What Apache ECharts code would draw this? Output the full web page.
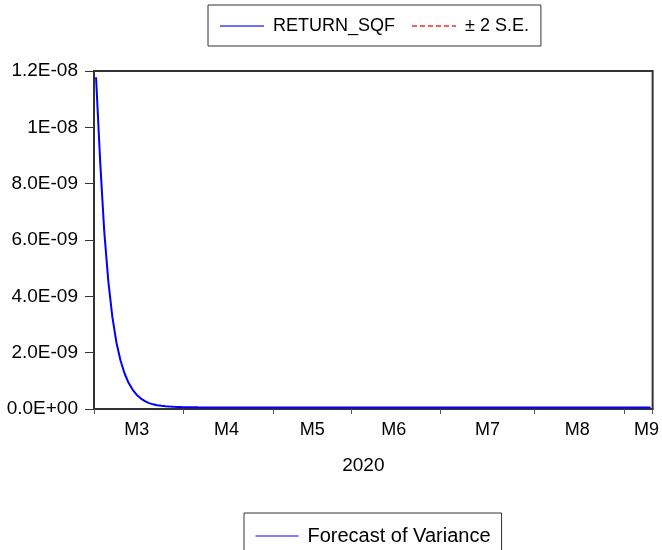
<!DOCTYPE html>
<html><head><meta charset="utf-8">
<script src="https://cdn.jsdelivr.net/npm/echarts@6/dist/echarts.min.js"></script>
<style>html,body{margin:0;padding:0;background:#fff}#chart{width:662px;height:550px}</style>
</head><body><div id="chart"></div>
<script>
// ---- data ----
const monthLabels = ['M3', 'M4', 'M5', 'M6', 'M7', 'M8', 'M9'];
const monthDayCounts = [22, 22, 19, 22, 23, 22, 7];   // trading days shown per month
const yTickLabels = ['0.0E+00', '2.0E-09', '4.0E-09', '6.0E-09', '8.0E-09', '1E-08', '1.2E-08'];
const xAxisTitle = '2020';
const topLegendNames = ['RETURN_SQF', '± 2 S.E.'];
const bottomLegendName = 'Forecast of Variance';
// forecast of variance, in units of 1E-09
const forecastVarianceE9 = [
  11.78, 8.82, 6.33, 4.55, 3.27, 2.36, 1.72, 1.26, 0.92, 0.68,
  0.50, 0.37, 0.28, 0.21, 0.165, 0.135, 0.112, 0.096, 0.085, 0.077,
  0.072, 0.068, 0.065, 0.062, 0.060, 0.058, 0.057, 0.056,
  0.055, 0.055, 0.055, 0.055, 0.055, 0.055, 0.055, 0.055, 0.055, 0.055,
  0.055, 0.055, 0.055, 0.055, 0.055, 0.055, 0.055, 0.055, 0.055, 0.055,
  0.055, 0.055, 0.055, 0.055, 0.055, 0.055, 0.055, 0.055, 0.055, 0.055,
  0.055, 0.055, 0.055, 0.055, 0.055, 0.055, 0.055, 0.055, 0.055, 0.055,
  0.055, 0.055, 0.055, 0.055, 0.055, 0.055, 0.055, 0.055, 0.055, 0.055,
  0.055, 0.055, 0.055, 0.055, 0.055, 0.055, 0.055, 0.055, 0.055, 0.055,
  0.055, 0.055, 0.055, 0.055, 0.055, 0.055, 0.055, 0.055, 0.055, 0.055,
  0.055, 0.055, 0.055, 0.055, 0.055, 0.055, 0.055, 0.055, 0.055, 0.055,
  0.055, 0.055, 0.055, 0.055, 0.055, 0.055, 0.055, 0.055, 0.055, 0.055,
  0.055, 0.055, 0.055, 0.055, 0.055, 0.055, 0.055, 0.055, 0.055, 0.055,
  0.055, 0.055, 0.055, 0.055, 0.055, 0.055, 0.055, 0.055, 0.055
];

// ---- build categories / tick positions ----
const categories = [];
const monthStarts = [];
const labelIndices = [];
let idx = 0;
monthDayCounts.forEach((cnt, m) => {
  monthStarts.push(idx);
  const last = m === monthDayCounts.length - 1;
  labelIndices.push(idx + (last ? cnt - 2 : Math.floor((cnt - 1) / 2)));
  for (let d = 0; d < cnt; d++) categories.push(monthLabels[m] + '-' + (d + 1));
  idx += cnt;
});

const FONT = '"Liberation Sans", Arial, sans-serif';
const chart = echarts.init(document.getElementById('chart'), null, {renderer: 'canvas'});
chart.setOption({
  animation: false,
  backgroundColor: '#ffffff',
  textStyle: {fontFamily: FONT},
  grid: {left: 94, right: 7, top: 71, bottom: 141, show: true, borderColor: '#333', borderWidth: 2, containLabel: false},
  legend: [
    {
      data: topLegendNames, left: 208, top: 5, orient: 'horizontal',
      padding: [12, 12, 11, 11], itemWidth: 44, itemHeight: 12, itemGap: 16,
      borderColor: '#333', borderWidth: 1, backgroundColor: '#fff',
      itemStyle: {opacity: 0}, selectedMode: false,
      textStyle: {fontFamily: FONT, fontSize: 18, color: '#000', padding: [0, 0, 0, 4]}
    },
    {
      data: [bottomLegendName], left: 244, top: 513, orient: 'horizontal',
      padding: [13, 11, 24, 11], itemWidth: 43, itemHeight: 12,
      borderColor: '#333', borderWidth: 1, backgroundColor: '#fff',
      itemStyle: {opacity: 0}, lineStyle: {width: 1}, selectedMode: false,
      textStyle: {fontFamily: FONT, fontSize: 20, color: '#000', padding: [0, 0, 0, 4]}
    }
  ],
  xAxis: {
    type: 'category', data: categories, boundaryGap: true,
    name: xAxisTitle, nameLocation: 'middle', nameGap: 47,
    nameTextStyle: {fontFamily: FONT, fontSize: 19, color: '#000', padding: [0, 20, 0, 0]},
    axisLine: {show: true, lineStyle: {color: '#333', width: 2}},
    axisTick: {show: true, length: 5, interval: (i) => monthStarts.includes(i), lineStyle: {color: '#555', width: 1}},
    axisLabel: {
      interval: (i) => labelIndices.includes(i),
      formatter: (v) => v.split('-')[0],
      fontFamily: FONT, fontSize: 18, color: '#000', margin: 12
    },
    splitLine: {show: false}
  },
  yAxis: {
    type: 'value', min: 0, max: 1.2e-8, interval: 2e-9,
    axisLine: {show: true, lineStyle: {color: '#333', width: 2}},
    axisTick: {show: true, length: 9, lineStyle: {color: '#333', width: 1}},
    axisLabel: {
      formatter: (v) => yTickLabels[Math.round(v / 2e-9)],
      fontFamily: FONT, fontSize: 19, color: '#000', margin: 16, padding: [0, 0, 9, 0]
    },
    splitLine: {show: false}
  },
  series: [
    {name: topLegendNames[0], type: 'line', data: [], symbol: 'none', color: '#6e6eff', lineStyle: {color: '#6e6eff', width: 1}},
    {name: topLegendNames[1], type: 'line', data: [], symbol: 'none', color: '#ff5c5c', lineStyle: {color: '#ff5c5c', width: 1, type: [5, 3]}},
    {
      name: bottomLegendName, type: 'line', symbol: 'none', color: '#0000ff',
      data: forecastVarianceE9.map(v => v * 1e-9),
      lineStyle: {color: '#0000ff', width: 2}, z: 3
    }
  ]
});
</script></body></html>
